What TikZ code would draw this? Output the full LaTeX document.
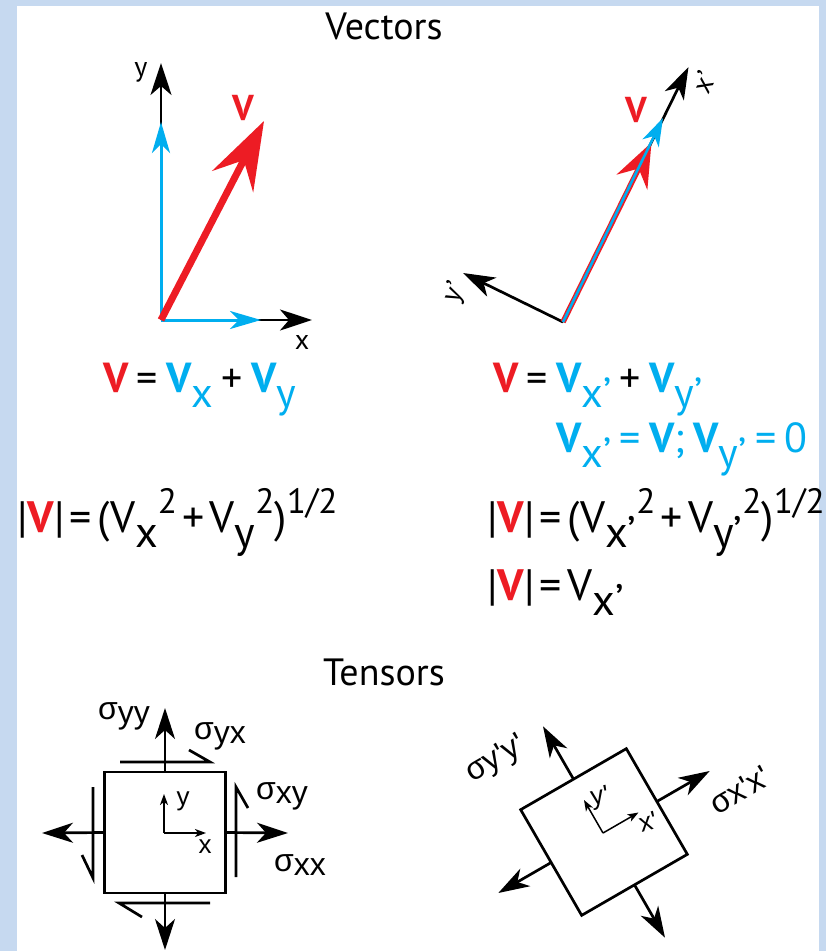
\documentclass[tikz,border=0pt]{standalone}
\usepackage{fontspec}
\setmainfont{PT Sans}
\newfontfamily\arialf{Liberation Sans}
\usetikzlibrary{arrows.meta,calc}
\definecolor{vred}{HTML}{ED1C24}
\definecolor{vblue}{HTML}{00AEEF}
\definecolor{bgblue}{HTML}{C6D9F0}
\newcommand{\rV}{\textcolor{vred}{\bfseries V}}
\newcommand{\bV}{\textcolor{vblue}{\bfseries V}}
\newcommand{\sbx}[1]{\raisebox{-0.36em}{#1}}
\newcommand{\spx}[1]{\raisebox{0.42em}{\scalebox{0.8}{#1}}}
\newcommand{\eqs}{\hspace{0.2em}}
\newcommand{\eqt}{\hspace{0.12em}}
\tikzset{
  ttl/.style={font=\fontsize{38}{44}\selectfont, inner sep=0pt},
  eqa/.style={font=\fontsize{42}{48}\selectfont, inner sep=0pt, anchor=base west},
  eqb/.style={font=\fontsize{44}{50}\selectfont, inner sep=0pt, anchor=base west},
  axis/.style={line width=2.7pt, -{Stealth[length=32pt,width=21pt,inset=9pt]}},
  baxis/.style={vblue, line width=3pt, -{Stealth[length=31pt,width=18pt,inset=9pt]}},
  lbl/.style={font=\fontsize{28}{32}\selectfont, inner sep=0pt},
  tarrow/.style={line width=2.7pt, -{Stealth[length=31pt,width=20pt,inset=9pt]}},
  sarrow/.style={line width=1.5pt, -{Stealth[length=11pt,width=8pt,inset=3pt]}},
  shear/.style={line width=2.7pt},
  tl/.style={font=\arialf\fontsize{32}{36}\selectfont, inner sep=0pt},
  tls/.style={font=\arialf\fontsize{26}{30}\selectfont, inner sep=0pt},
}
\begin{document}
\begin{tikzpicture}[x=1pt,y=-1pt]
\useasboundingbox (0,0) rectangle (826,951);
\fill[bgblue] (0,0) rectangle (826,951);
\fill[white] (17,6) rectangle (819,951);

% ---------- titles
\node[ttl] (tv) at (384,26) {Vectors};
\node[ttl] (tt) at (384,672) {Tensors};

% ---------- left vector diagram
\coordinate (O1) at (161,320);
\coordinate (Y1) at (161,63);
\coordinate (X1) at (312,320);
\coordinate (BY1) at (161,122);
\coordinate (BX1) at (261,320);
\coordinate (V1) at (264,121);
\draw[axis] (O1) -- (Y1);
\draw[axis] (O1) -- (X1);
\draw[baxis] (O1) -- (BY1);
\draw[baxis] (O1) -- (BX1);
\draw[vred, line width=7pt, -{Stealth[length=68pt,width=46pt,inset=24pt]}] (O1) -- (V1);
\node[lbl] (ly1) at (141,72) {y};
\node[lbl] (lx1) at (302,342) {x};
\node[font=\fontsize{36}{40}\selectfont\bfseries, text=vred, inner sep=0pt] (lv1) at (243,108) {V};

% ---------- right vector diagram
\coordinate (O2) at (563,322);
\coordinate (X2) at (688.5,67);
\coordinate (Y2) at (463,273);
\coordinate (R2) at (651.5,142.5);
\coordinate (B2) at (663,118);
\draw[axis] (O2) -- (X2);
\draw[axis] (O2) -- (Y2);
\draw[vred, line width=5.5pt, -{Stealth[length=44pt,width=34pt,inset=15pt]}] (O2) -- (R2);
\draw[vblue, line width=2.6pt, -{Stealth[length=28pt,width=18pt,inset=8pt]}] (O2) -- (B2);
\node[lbl, rotate=63.8] (lx2) at (704,82) {x’};
\node[lbl, rotate=63.8] (ly2) at (455,293) {y’};
\node[font=\fontsize{36}{40}\selectfont\bfseries, text=vred, inner sep=0pt] (lv2) at (636,110) {V};

% ---------- equations
\node[eqa] (e1) at (103,392) {\rV\eqs=\eqs\bV\sbx{\textcolor{vblue}{x}}\eqs+\eqs\bV\sbx{\textcolor{vblue}{y}}};
\node[eqa] (e2) at (493,392) {\rV\eqs=\eqs\bV\sbx{\textcolor{vblue}{x’}}\eqs+\eqs\bV\sbx{\textcolor{vblue}{y’}}};
\node[eqa, text=vblue] (e3) at (556,452) {\bV\sbx{x’}\eqs=\eqs\bV;\eqs\bV\sbx{y’}\eqs=\eqs0};
\node[eqb] (e4) at (17,532) {|\rV|\eqt=\eqt(V\sbx{x}\spx{2}\eqt+\eqt V\sbx{y}\spx{2})\spx{1/2}};
\node[eqb] (e5) at (487,532) {|\rV|\eqt=\eqt(V\sbx{x’}\spx{2}\eqt+\eqt V\sbx{y’}\spx{2})\spx{1/2}};
\node[eqb] (e6) at (487,600) {|\rV|\eqt=\eqt V\sbx{x’}};

% ---------- left tensor
\node[draw, line width=2.7pt, minimum size=121pt, inner sep=0pt, outer sep=0pt] (sq1) at (165,832.5) {};
\coordinate (T1n) at (165,708);
\coordinate (T1s) at (165,950);
\coordinate (T1w) at (42,833);
\coordinate (T1e) at (288,833);
\draw[tarrow] (sq1.north) -- (T1n);
\draw[tarrow] (sq1.south) -- (T1s);
\draw[tarrow] (sq1.west) -- (T1w);
\draw[tarrow] (sq1.east) -- (T1e);
\draw[shear] (120,762) -- (210,762) -- (189,750);
\draw[shear] (210,903) -- (119,903) -- (142,917);
\draw[shear] (236,877) -- (236,787) -- (248,808);
\draw[shear] (93,787) -- (93,878) -- (82,855);
\coordinate (A1) at (164,833);
\coordinate (A1y) at (164,794);
\coordinate (A1x) at (206,833);
\draw[sarrow] (A1) -- (A1y);
\draw[sarrow] (A1) -- (A1x);
\node[tls] (ay1) at (183,801) {y};
\node[tls] (ax1) at (205,847) {x};
\node[tl] (syy) at (124,716) {σ\raisebox{-0.12em}{yy}};
\node[tl] (syx) at (220,736) {σ\raisebox{-0.12em}{yx}};
\node[tl] (sxy) at (282,796) {σ\raisebox{-0.12em}{xy}};
\node[tl] (sxx) at (300,865) {σ\raisebox{-0.12em}{xx}};

% ---------- right tensor
\node[draw, line width=2.7pt, minimum size=122pt, inner sep=0pt, outer sep=0pt, rotate=30] (sq2) at (604,832) {};
\coordinate (T2e) at (709.7,771);
\coordinate (T2n) at (543,726.3);
\coordinate (T2w) at (498.3,893);
\coordinate (T2s) at (665,937.7);
\draw[tarrow] (sq2.east) -- (T2e);
\draw[tarrow] (sq2.north) -- (T2n);
\draw[tarrow] (sq2.west) -- (T2w);
\draw[tarrow] (sq2.south) -- (T2s);
\coordinate (A2) at (603,833);
\coordinate (A2x) at (638.5,812.5);
\coordinate (A2y) at (584,800);
\draw[sarrow] (A2) -- (A2x);
\draw[sarrow] (A2) -- (A2y);
\node[tls, rotate=15] (ax2) at (648,822) {x'};
\node[tls, rotate=10] (ay2) at (600,798) {y'};
\node[tl, rotate=30] (sy2) at (496,760) {σy'y'};
\node[tl, rotate=30] (sx2) at (740,790) {σx'x'};
\end{tikzpicture}
\end{document}
